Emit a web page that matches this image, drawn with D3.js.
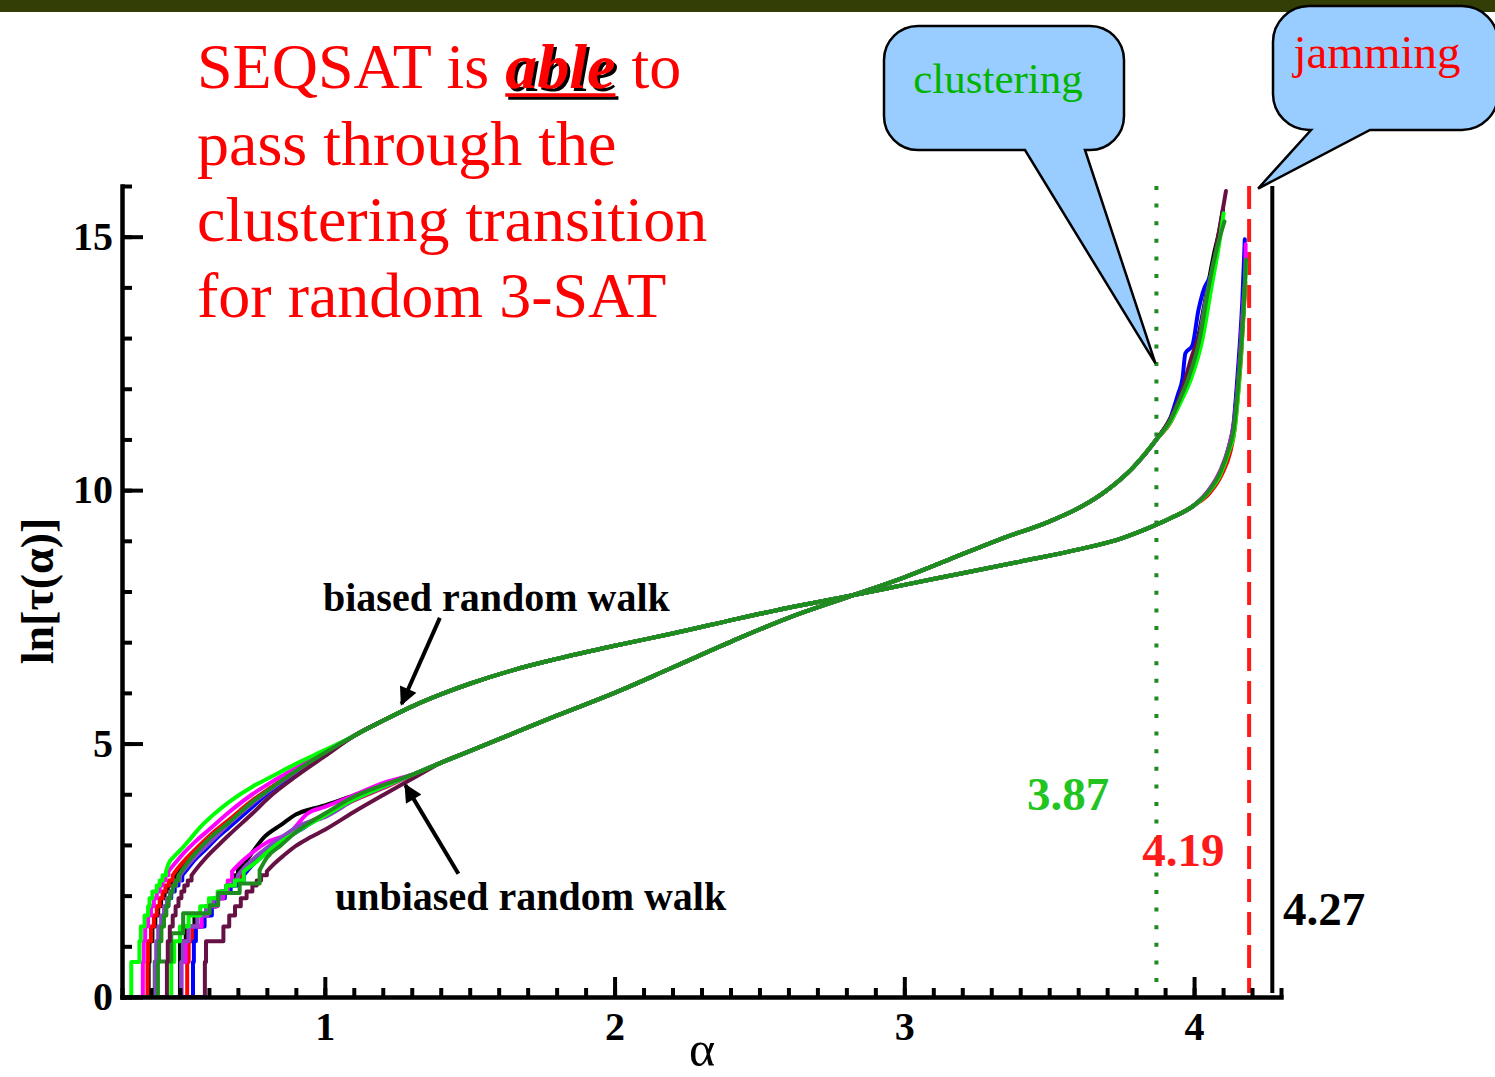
<!DOCTYPE html>
<html>
<head>
<meta charset="utf-8">
<script src="https://cdn.jsdelivr.net/npm/d3@7"></script>
<style>
  body { margin: 0; background: #fff; }
  svg { display: block; }
</style>
</head>
<body>
<svg id="chart" width="1495" height="1077"></svg>
<script>
// ---- data -------------------------------------------------------------
// Run colours (same order in every per-run array below)
const runColors = ['#000000', '#ff0000', '#0000ff', '#ff00ff', '#8b45c8', '#661144', '#00ff00', '#1e8c1e'];

// Biased random walk: low-alpha staircases (ln of small integer times)
const biasedSteps = [
  [[0.35,0],[0.392,0.69],[0.395,1.10],[0.405,1.39],[0.415,1.61],[0.425,1.79],[0.435,1.95],[0.447,2.08],[0.458,2.20],[0.47,2.30],[0.482,2.40]],
  [[0.35,0],[0.388,0.69],[0.39,1.10],[0.40,1.39],[0.41,1.61],[0.42,1.79],[0.43,1.95],[0.44,2.08],[0.45,2.20],[0.462,2.30],[0.475,2.40]],
  [[0.38,0],[0.42,0.69],[0.422,1.10],[0.43,1.39],[0.44,1.61],[0.45,1.79],[0.46,1.95],[0.47,2.08],[0.482,2.20],[0.495,2.30],[0.508,2.40]],
  [[0.33,0],[0.372,0.69],[0.375,1.10],[0.38,1.39],[0.39,1.61],[0.40,1.79],[0.41,1.95],[0.42,2.08],[0.43,2.20],[0.44,2.30],[0.45,2.40],[0.46,2.48]],
  [[0.37,0],[0.415,0.69],[0.418,1.10],[0.425,1.39],[0.435,1.61],[0.445,1.79],[0.455,1.95],[0.465,2.08],[0.475,2.20],[0.487,2.30],[0.50,2.40]],
  [[0.41,0],[0.455,0.69],[0.458,1.10],[0.465,1.39],[0.475,1.61],[0.485,1.79],[0.495,1.95],[0.505,2.08],[0.515,2.20],[0.527,2.30],[0.54,2.40]],
  [[0.30,0],[0.332,0.69],[0.36,1.10],[0.365,1.39],[0.378,1.61],[0.39,1.79],[0.395,1.95],[0.405,2.08],[0.42,2.20],[0.43,2.30],[0.44,2.40],[0.452,2.48]],
  [[0.38,0],[0.424,0.69],[0.428,1.10],[0.436,1.39],[0.445,1.61],[0.453,1.79],[0.46,1.95],[0.468,2.08],[0.476,2.20],[0.485,2.30],[0.495,2.40]]
];
// Biased: per-run rise up to alpha = 1
const biasedRise = [
  [[0.50,2.55],[0.53,2.75],[0.57,2.98],[0.62,3.25],[0.67,3.48],[0.75,3.85],[0.81,4.10],[0.90,4.45],[1.00,4.80]],
  [[0.49,2.52],[0.52,2.72],[0.56,2.95],[0.61,3.22],[0.67,3.50],[0.75,3.88],[0.81,4.12],[0.90,4.45],[1.00,4.80]],
  [[0.525,2.52],[0.55,2.70],[0.59,2.92],[0.63,3.15],[0.67,3.35],[0.75,3.75],[0.81,4.05],[0.90,4.42],[1.00,4.78]],
  [[0.48,2.62],[0.51,2.82],[0.55,3.05],[0.60,3.30],[0.67,3.65],[0.75,4.00],[0.81,4.22],[0.90,4.52],[1.00,4.85]],
  [[0.52,2.55],[0.55,2.75],[0.59,2.98],[0.63,3.20],[0.67,3.42],[0.75,3.82],[0.81,4.08],[0.90,4.44],[1.00,4.80]],
  [[0.56,2.55],[0.59,2.75],[0.63,2.98],[0.67,3.20],[0.75,3.62],[0.81,3.95],[0.90,4.35],[1.00,4.75]],
  [[0.46,2.62],[0.48,2.77],[0.51,2.95],[0.54,3.15],[0.57,3.35],[0.62,3.62],[0.67,3.85],[0.75,4.15],[0.81,4.33],[0.90,4.60],[1.00,4.87]],
  [[0.51,2.52],[0.53,2.68],[0.56,2.88],[0.60,3.12],[0.67,3.45],[0.75,3.85],[0.81,4.10],[0.90,4.46],[1.00,4.82]]
];
// Biased: common trajectory in the middle range
const biasedTrack = [[1.10,5.15],[1.20,5.45],[1.30,5.73],[1.40,5.97],[1.50,6.18],[1.65,6.45],[1.80,6.67],[2.00,6.93],[2.20,7.17],[2.43,7.47],[2.60,7.68],[2.80,7.90],[3.00,8.13],[3.20,8.36],[3.40,8.59],[3.61,8.84],[3.75,9.05],[3.85,9.27],[3.92,9.45],[4.00,9.70]];
// Biased: per-run divergence near jamming
const biasedTails = [
  [[4.05,9.97],[4.09,10.33],[4.12,10.82],[4.138,11.3],[4.15,12.1],[4.162,12.9],[4.17,13.6],[4.175,14.2]],
  [[4.055,9.95],[4.095,10.3],[4.125,10.75],[4.14,11.2],[4.152,11.9],[4.163,12.7],[4.172,13.6],[4.177,14.1]],
  [[4.05,9.98],[4.09,10.36],[4.12,10.85],[4.137,11.35],[4.148,12.1],[4.158,12.9],[4.167,13.8],[4.172,14.5],[4.175,14.95]],
  [[4.05,10.0],[4.09,10.38],[4.12,10.86],[4.137,11.3],[4.15,12.0],[4.16,12.8],[4.17,13.7],[4.177,14.3],[4.178,14.85]],
  [[4.05,9.97],[4.09,10.34],[4.12,10.8],[4.137,11.25],[4.15,12.0],[4.161,12.8],[4.17,13.6],[4.176,14.1]],
  [[4.05,9.97],[4.09,10.33],[4.12,10.8],[4.137,11.22],[4.15,11.95],[4.161,12.75],[4.17,13.5],[4.175,14.0]],
  [[4.05,9.96],[4.09,10.3],[4.12,10.76],[4.14,11.2],[4.153,11.95],[4.163,12.75],[4.173,13.7],[4.18,14.5]],
  [[4.05,9.98],[4.09,10.35],[4.12,10.82],[4.138,11.25],[4.151,12.0],[4.162,12.8],[4.172,13.7],[4.179,14.55]]
];

// Unbiased random walk: low-alpha staircases
const unbiasedSteps = [
  [[0.45,0],[0.50,1.10],[0.52,1.39],[0.55,1.61],[0.59,1.79],[0.626,1.95],[0.64,2.08],[0.66,2.20],[0.685,2.40],[0.70,2.50]],
  [[0.47,0],[0.525,0.69],[0.53,1.10],[0.545,1.39],[0.575,1.61],[0.60,1.79],[0.625,1.95],[0.65,2.08],[0.67,2.20],[0.69,2.30],[0.71,2.40]],
  [[0.49,0],[0.545,0.69],[0.548,1.10],[0.555,1.39],[0.585,1.61],[0.61,1.79],[0.625,1.95],[0.655,2.08],[0.675,2.20],[0.70,2.30],[0.72,2.40]],
  [[0.46,0],[0.505,0.69],[0.52,1.10],[0.53,1.39],[0.575,1.61],[0.595,1.79],[0.63,1.95],[0.65,2.08],[0.665,2.30],[0.68,2.48]],
  [[0.45,0],[0.505,0.69],[0.51,1.10],[0.53,1.39],[0.56,1.61],[0.59,1.79],[0.615,1.95],[0.64,2.08],[0.66,2.20],[0.685,2.30],[0.70,2.40]],
  [[0.53,0],[0.586,0.69],[0.59,1.10],[0.65,1.39],[0.67,1.61],[0.69,1.79],[0.71,1.95],[0.73,2.08],[0.75,2.20],[0.765,2.30],[0.78,2.40],[0.80,2.48]],
  [[0.42,0],[0.47,0.69],[0.48,1.10],[0.50,1.39],[0.53,1.61],[0.57,1.79],[0.60,1.95],[0.63,2.08],[0.66,2.20],[0.69,2.30],[0.72,2.48]],
  [[0.38,0],[0.413,0.70],[0.470,1.26],[0.511,1.65],[0.603,1.81],[0.632,2.05],[0.706,2.24],[0.775,2.50]]
];
const unbiasedRise = [
  [[0.73,2.70],[0.79,3.15],[0.85,3.40],[0.90,3.60],[0.96,3.72],[1.00,3.78],[1.10,3.98],[1.20,4.20]],
  [[0.74,2.60],[0.80,2.90],[0.86,3.15],[0.93,3.40],[1.00,3.60],[1.10,3.88],[1.20,4.12]],
  [[0.75,2.60],[0.80,2.85],[0.86,3.10],[0.93,3.35],[1.00,3.60],[1.10,3.90],[1.20,4.15]],
  [[0.70,2.60],[0.75,2.85],[0.80,3.05],[0.88,3.25],[0.94,3.62],[1.00,3.75],[1.10,3.98],[1.20,4.22]],
  [[0.73,2.60],[0.79,2.90],[0.85,3.15],[0.92,3.40],[1.00,3.55],[1.10,3.88],[1.20,4.13]],
  [[0.82,2.60],[0.86,2.80],[0.90,2.98],[0.95,3.15],[1.00,3.30],[1.10,3.65],[1.20,3.98],[1.30,4.30]],
  [[0.76,2.65],[0.82,2.95],[0.90,3.25],[1.00,3.58],[1.10,3.90],[1.20,4.15]],
  [[0.80,2.75],[0.85,3.00],[0.90,3.25],[0.95,3.45],[1.00,3.62],[1.10,3.95],[1.20,4.18]]
];
const unbiasedTrack = [[1.30,4.38],[1.40,4.62],[1.50,4.85],[1.65,5.20],[1.80,5.55],[2.00,6.00],[2.20,6.50],[2.43,7.08],[2.60,7.48],[2.80,7.88],[3.00,8.28],[3.15,8.62],[3.33,9.03],[3.50,9.38],[3.61,9.67],[3.70,10.00],[3.79,10.45],[3.87,11.00]];
const unbiasedTails = [
  [[3.92,11.42],[3.95,11.8],[3.98,12.25],[4.01,12.9],[4.04,13.8],[4.07,14.7],[4.09,15.2],[4.10,15.55]],
  [[3.92,11.35],[3.95,11.72],[3.985,12.2],[4.025,13.0],[4.055,14.0],[4.07,14.5],[4.085,15.0]],
  [[3.92,11.45],[3.945,11.9],[3.96,12.2],[3.97,12.7],[3.994,12.85],[4.015,13.55],[4.03,13.9],[4.067,14.4],[4.085,14.95]],
  [[3.92,11.38],[3.955,11.8],[3.99,12.3],[4.03,13.1],[4.05,13.75],[4.07,14.4],[4.08,14.8]],
  [[3.92,11.4],[3.95,11.8],[3.98,12.25],[4.015,12.95],[4.045,13.9],[4.075,14.7],[4.095,15.3]],
  [[3.93,11.55],[3.96,12.0],[3.99,12.6],[4.02,13.1],[4.045,13.6],[4.06,14.1],[4.08,14.9],[4.095,15.4],[4.11,15.9]],
  [[3.92,11.36],[3.955,11.75],[3.99,12.2],[4.03,13.0],[4.06,14.0],[4.085,14.8],[4.102,15.46]],
  [[3.92,11.4],[3.95,11.78],[3.98,12.2],[4.02,13.0],[4.05,14.0],[4.08,14.8],[4.105,15.3]]
];

// Axis ticks and threshold markers
const xMajorTicks = [1, 2, 3, 4];
const yMajorTicks = [0, 5, 10, 15];
const thresholdAlpha  = [3.87, 4.19, 4.27];
const thresholdText   = ['3.87', '4.19', '4.27'];
const thresholdColors = ['#1f8a1f', '#ff1a1a', '#000000'];
const thresholdLabelColors = ['#22c422', '#ff1a1a', '#000000'];
const thresholdLabelAt = [[3.565, 3.69], [3.963, 2.58], [4.307, 1.42]]; // [alpha, ln tau] label anchors
const titleLines = ['pass through the', 'clustering transition', 'for random 3-SAT'];

// ---- drawing ----------------------------------------------------------
const W = 1495, H = 1077;
const serif = '"Liberation Serif", "Times New Roman", Times, serif';
const svg = d3.select('#chart');

const defs = svg.append('defs');
// black offset copy behind the emphasised word
const shadow = defs.append('filter').attr('id', 'shadow')
  .attr('x', '-10%').attr('y', '-20%').attr('width', '130%').attr('height', '150%');
shadow.append('feOffset').attr('in', 'SourceAlpha').attr('dx', 3).attr('dy', 3).attr('result', 'off');
const merge = shadow.append('feMerge');
merge.append('feMergeNode').attr('in', 'off');
merge.append('feMergeNode').attr('in', 'SourceGraphic');

defs.append('marker').attr('id', 'head')
  .attr('viewBox', '0 0 10 10').attr('refX', 9).attr('refY', 5)
  .attr('markerWidth', 22).attr('markerHeight', 18).attr('markerUnits', 'userSpaceOnUse')
  .attr('orient', 'auto')
  .append('path').attr('d', 'M0,0 L10,5 L0,10 Z').attr('fill', '#000');

svg.append('rect').attr('width', W).attr('height', H).attr('fill', '#ffffff');
svg.append('rect').attr('width', W).attr('height', 12).attr('fill', '#333d06');

const x = d3.scaleLinear().domain([0.3, 4.3]).range([122, 1281]);
const y = d3.scaleLinear().domain([0, 16]).range([997, 186]);

// threshold lines
const dashes = ['4 13.6', '23 10', null];
thresholdAlpha.forEach((a, i) => {
  svg.append('line')
    .attr('x1', x(a)).attr('x2', x(a))
    .attr('y1', y(16)).attr('y2', y(0) - 4)
    .attr('stroke', thresholdColors[i])
    .attr('stroke-width', 4)
    .attr('stroke-dasharray', dashes[i]);
});

// runs: staircase part drawn step-wise, the rest as a smooth monotone curve
const stepLine = d3.line().x(d => x(d[0])).y(d => y(d[1])).curve(d3.curveStepAfter);
const smoothLine = d3.line().x(d => x(d[0])).y(d => y(d[1])).curve(d3.curveMonotoneX);

function runPath(steps, rise, track, tail) {
  const riseEnd = rise[rise.length - 1][0];
  const tailStart = tail[0][0];
  const mid = track.filter(p => p[0] > riseEnd && p[0] < tailStart);
  const last = steps[steps.length - 1];
  return stepLine(steps) + smoothLine([last].concat(rise, mid, tail));
}

const runs = svg.append('g').attr('fill', 'none')
  .attr('stroke-width', 4).attr('stroke-linejoin', 'round').attr('stroke-linecap', 'round');

runColors.forEach((c, i) => {
  runs.append('path')
    .attr('d', runPath(unbiasedSteps[i], unbiasedRise[i], unbiasedTrack, unbiasedTails[i]))
    .attr('stroke', c);
});
runColors.forEach((c, i) => {
  runs.append('path')
    .attr('d', runPath(biasedSteps[i], biasedRise[i], biasedTrack, biasedTails[i]))
    .attr('stroke', c);
});

// axes
function styleAxis(g) {
  g.select('.domain').attr('stroke', '#000').attr('stroke-width', 4.5).attr('stroke-linecap', 'square');
  g.selectAll('.tick line').attr('stroke', '#000').attr('stroke-width', 4);
  g.selectAll('.tick text').attr('fill', '#000')
    .style('font-family', serif).style('font-weight', 'bold').style('font-size', '40px');
}

const gxMinor = svg.append('g').attr('transform', `translate(0,${y(0)})`)
  .call(d3.axisBottom(x).tickValues(x.ticks(40)).tickSize(-9).tickSizeOuter(0).tickFormat(''));
styleAxis(gxMinor);
const gxMajor = svg.append('g').attr('transform', `translate(0,${y(0)})`)
  .call(d3.axisBottom(x).tickValues(xMajorTicks).tickSize(-20).tickSizeOuter(0).tickPadding(15).tickFormat(d3.format('d')));
styleAxis(gxMajor);
gxMajor.select('.domain').remove();

const gyMinor = svg.append('g').attr('transform', `translate(${x(0.3)},0)`)
  .call(d3.axisLeft(y).tickValues(y.ticks(16)).tickSize(-10).tickSizeOuter(0).tickFormat(''));
styleAxis(gyMinor);
const gyMajor = svg.append('g').attr('transform', `translate(${x(0.3)},0)`)
  .call(d3.axisLeft(y).tickValues(yMajorTicks).tickSize(-21).tickSizeOuter(0).tickPadding(9).tickFormat(d3.format('d')));
styleAxis(gyMajor);
gyMajor.select('.domain').remove();

// axis titles
svg.append('text')
  .attr('x', 702).attr('y', 1066).attr('text-anchor', 'middle')
  .style('font-family', serif).style('font-size', '50px').text('α');
svg.append('text')
  .attr('transform', 'translate(53,591) rotate(-90)').attr('text-anchor', 'middle')
  .style('font-family', serif).style('font-size', '46px').style('font-weight', 'bold')
  .text('ln[τ(α)]');

// threshold labels
thresholdText.forEach((t, i) => {
  const [a, v] = thresholdLabelAt[i];
  svg.append('text')
    .attr('x', x(a)).attr('y', y(v))
    .attr('text-anchor', i === 2 ? 'start' : 'middle')
    .attr('fill', thresholdLabelColors[i])
    .style('font-family', serif).style('font-weight', 'bold').style('font-size', '47px')
    .text(t);
});

// walk labels and arrows
svg.append('text').attr('x', 323).attr('y', 611)
  .style('font-family', serif).style('font-weight', 'bold').style('font-size', '40px')
  .text('biased random walk');
svg.append('text').attr('x', 335).attr('y', 910)
  .style('font-family', serif).style('font-weight', 'bold').style('font-size', '40px')
  .text('unbiased random walk');

svg.append('line')
  .attr('x1', x(1.397)).attr('y1', y(7.48)).attr('x2', x(1.265)).attr('y2', y(5.78))
  .attr('stroke', '#000').attr('stroke-width', 4).attr('marker-end', 'url(#head)');
svg.append('line')
  .attr('x1', x(1.461)).attr('y1', y(2.43)).attr('x2', x(1.278)).attr('y2', y(4.18))
  .attr('stroke', '#000').attr('stroke-width', 4).attr('marker-end', 'url(#head)');

// title: first line built from separately placed words so "able" can carry its shadow
const titleX = 197, titleSize = 64, spaceW = titleSize * 0.25;
const titleFont = sel => sel.style('font-family', serif).style('font-size', titleSize + 'px');
const partA = svg.append('text').attr('x', titleX).attr('y', 88).attr('fill', '#ff0000')
  .call(titleFont).text('SEQSAT is');
const ableX = titleX + partA.node().getComputedTextLength() + spaceW;
const ableG = svg.append('g').attr('filter', 'url(#shadow)');
const ableText = ableG.append('text').attr('x', ableX).attr('y', 88).attr('fill', '#ff0000')
  .call(titleFont).style('font-weight', 'bold').style('font-style', 'italic').text('able');
const ableW = ableText.node().getComputedTextLength();
ableG.append('line').attr('x1', ableX).attr('x2', ableX + ableW)
  .attr('y1', 95).attr('y2', 95).attr('stroke', '#ff0000').attr('stroke-width', 3.5);
svg.append('text').attr('x', ableX + ableW + spaceW).attr('y', 88).attr('fill', '#ff0000')
  .call(titleFont).text('to');

titleLines.forEach((s, i) => {
  svg.append('text').attr('x', titleX).attr('y', 165 + i * 76)
    .attr('fill', '#ff0000').call(titleFont).text(s);
});

// speech-bubble callouts
function bubble(x0, y0, x1, y1, r, tailL, tailR, tip) {
  return `M${x0 + r},${y0} H${x1 - r} A${r},${r} 0 0 1 ${x1},${y0 + r} V${y1 - r} A${r},${r} 0 0 1 ${x1 - r},${y1}` +
    ` H${tailR} L${tip[0]},${tip[1]} L${tailL},${y1}` +
    ` H${x0 + r} A${r},${r} 0 0 1 ${x0},${y1 - r} V${y0 + r} A${r},${r} 0 0 1 ${x0 + r},${y0} Z`;
}
svg.append('path')
  .attr('d', bubble(884, 26, 1124, 150, 34, 1025, 1085, [x(3.87) - 1, y(12.5)]))
  .attr('fill', '#99ccff').attr('stroke', '#000').attr('stroke-width', 2.5);
svg.append('text').attr('x', 998).attr('y', 93).attr('text-anchor', 'middle')
  .attr('fill', '#00b400').style('font-family', serif).style('font-size', '43px').text('clustering');

svg.append('path')
  .attr('d', bubble(1273, 6, 1498, 130, 36, 1311, 1370, [x(4.19) + 9, y(15.95)]))
  .attr('fill', '#99ccff').attr('stroke', '#000').attr('stroke-width', 2.5);
svg.append('text').attr('x', 1377).attr('y', 68).attr('text-anchor', 'middle')
  .attr('fill', '#ff0000').style('font-family', serif).style('font-size', '47px').text('jamming');
</script>
</body>
</html>
